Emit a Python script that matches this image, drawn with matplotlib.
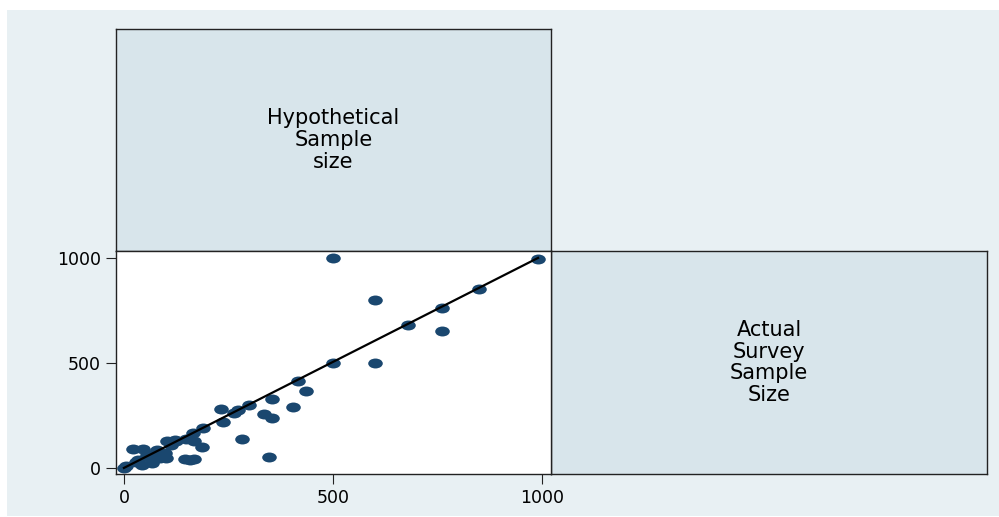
import matplotlib
matplotlib.use("Agg")
import matplotlib.pyplot as plt
import numpy as np
from matplotlib.path import Path
from matplotlib.patches import Rectangle

# hypothetical vs actual survey sample sizes
hyp = [500, 990, 850, 600, 760, 760, 680, 500, 600, 415, 436, 355, 405, 335,
       355, 347, 283, 300, 272, 262, 232, 238, 190, 187, 165, 168, 148, 125,
       102, 146, 158, 168, 100, 98, 78, 46, 22, 42, 6, 0, 62, 78, 30, 54, 66,
       86, 34, 122, 112, 80, 90]
act = [1000, 995, 850, 800, 760, 650, 680, 500, 500, 415, 367, 330, 290, 257,
       237, 50, 138, 300, 278, 262, 281, 221, 190, 98, 165, 130, 137, 130,
       127, 41, 38, 43, 46, 72, 86, 89, 89, 14, 8, 0, 54, 46, 30, 62, 22,
       46, 38, 133, 110, 80, 60]
fit_x = [0, 990]
fit_y = [0, 1000]
ticks = [0, 500, 1000]
labels = ["Hypothetical\nSample\nsize", "Actual\nSurvey\nSample\nSize"]

W, H = 999, 517
BG = "#e8f0f3"
DIAG = "#d8e5eb"
NAVY = "#1a476f"
FONT = "DejaVu Sans"


def frac(x0, y0, x1, y1):
    """Pixel box (top-left origin) -> figure fraction rect."""
    return [x0 / W, (H - y1) / H, (x1 - x0) / W, (y1 - y0) / H]


fig = plt.figure(figsize=(W / 100, H / 100), dpi=100)
fig.patch.set_facecolor("white")
fig.patches.append(Rectangle((7 / W, 1 / H), (W - 7) / W, (H - 11) / H,
                             transform=fig.transFigure, facecolor=BG,
                             edgecolor="none", zorder=-10))

# diagonal label cells
for rect, text in [(frac(116, 29, 551, 251), labels[0]),
                   (frac(551, 251, 987, 474), labels[1])]:
    ax = fig.add_axes(rect)
    ax.set_facecolor(DIAG)
    ax.set_xticks([])
    ax.set_yticks([])
    for s in ax.spines.values():
        s.set_color("#222222")
        s.set_linewidth(1.0)
    ax.text(0.5, 0.5, text, ha="center", va="center", fontsize=15,
            family=FONT, linespacing=1.1, transform=ax.transAxes)

# scatter cell
ax = fig.add_axes(frac(116, 251, 551, 474))
ax.set_facecolor("white")
circ = Path.unit_circle()
ellipse = Path(circ.vertices * [1.0, 0.68], circ.codes)
ax.plot(hyp, act, linestyle="none", marker=ellipse, markersize=10.5,
        color=NAVY, markeredgewidth=0, zorder=2)
ax.plot(fit_x, fit_y, color="black", linewidth=1.6, zorder=3)
ax.set_xlim(-19, 1021)
ax.set_ylim(-29, 1033)
ax.set_xticks(ticks)
ax.set_yticks(ticks)
ax.tick_params(length=7, width=0.8, color="#222222", labelsize=12.5, pad=4)
for lab in ax.get_xticklabels() + ax.get_yticklabels():
    lab.set_family(FONT)
for s in ax.spines.values():
    s.set_color("#222222")
    s.set_linewidth(1.0)

fig.savefig("out.png", dpi=100, facecolor=fig.get_facecolor())
